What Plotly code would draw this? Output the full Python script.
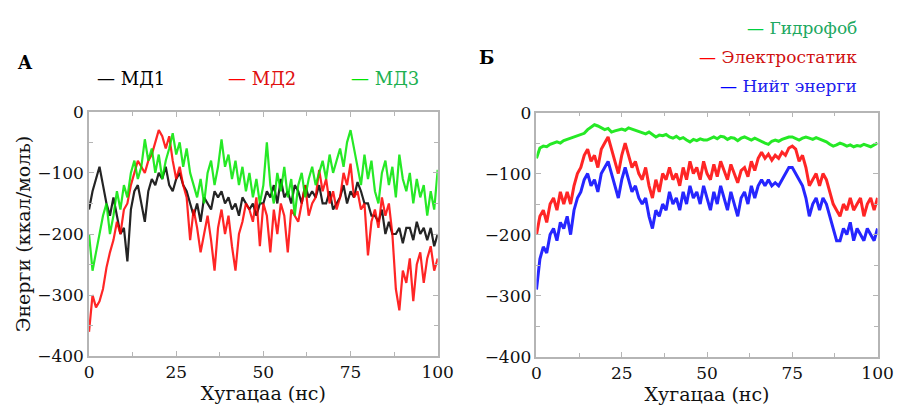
import plotly.graph_objects as go

t = list(range(0, 101))

md1 = [-160, -130, -110, -90, -120, -150, -170, -140, -170, -200,
       -190, -245, -160, -130, -120, -150, -180, -130, -110, -120,
       -100, -110, -90, -120, -130, -110, -100, -120, -130, -150,
       -170, -150, -180, -140, -150, -160, -130, -140, -130, -150,
       -140, -160, -150, -170, -140, -150, -160, -150, -170, -150,
       -150, -130, -140, -120, -150, -110, -140, -130, -150, -120,
       -130, -150, -120, -140, -130, -140, -120, -150, -150, -130,
       -160, -150, -140, -120, -150, -130, -140, -115, -130, -150,
       -150, -170, -170, -180, -160, -200, -180, -200, -200, -190,
       -215, -190, -190, -210, -180, -200, -190, -210, -190, -220,
       -200]

md2 = [-360, -300, -320, -310, -290, -255, -230, -210, -180, -200,
       -160, -150, -120, -100, -80, -90, -100, -80, -70, -50,
       -30, -40, -60, -40, -80, -110, -90, -120, -140, -210,
       -160, -190, -230, -200, -170, -210, -260, -190, -160, -200,
       -170, -220, -260, -200, -180, -150, -160, -180, -140, -220,
       -150, -170, -230, -160, -200, -150, -170, -230, -160, -170,
       -180, -150, -120, -170, -150, -140, -95, -130, -110, -150,
       -130, -160, -140, -100, -120, -85, -140, -130, -160, -150,
       -235, -180, -160, -190, -140, -170, -150, -200, -290, -325,
       -260, -280, -240, -310, -250, -230, -280, -240, -220, -260,
       -240]

md3 = [-200, -260, -230, -200, -170, -150, -200, -170, -130, -160,
       -120, -140, -100, -80, -110, -90, -45, -80, -60, -100,
       -70, -110, -80, -60, -35, -70, -50, -90, -60, -100,
       -120, -140, -110, -150, -100, -80, -120, -90, -45, -90,
       -70, -110, -80, -120, -90, -130, -100, -140, -110, -150,
       -120, -50, -120, -150, -100, -130, -90, -140, -110, -170,
       -120, -100, -140, -110, -90, -120, -100, -80, -110, -70,
       -100, -80, -60, -90, -50, -30, -60, -90, -120, -70,
       -110, -80, -130, -150, -100, -80, -120, -90, -140, -70,
       -110, -130, -100, -150, -110, -140, -120, -170, -130, -160,
       -95]

hyd = [-75, -58, -55, -56, -52, -50, -48, -50, -46, -44,
       -42, -40, -38, -36, -34, -28, -24, -20, -22, -25,
       -28, -26, -32, -30, -28, -27, -29, -25, -27, -29,
       -30, -33, -35, -32, -36, -40, -37, -38, -36, -40,
       -42, -39, -43, -41, -45, -48, -44, -46, -43, -45,
       -45, -42, -40, -43, -39, -40, -44, -41, -42, -46,
       -42, -40, -43, -45, -42, -45, -48, -50, -52, -47,
       -45, -47, -44, -42, -40, -40, -43, -45, -42, -40,
       -42, -44, -41, -43, -46, -48, -52, -55, -53, -50,
       -52, -55, -53, -56, -54, -55, -52, -54, -56, -53,
       -50]

ele = [-200, -170, -160, -180, -150, -140, -160, -130, -150, -130,
       -150, -120, -100, -90, -70, -60, -80, -70, -90, -60,
       -50, -40, -60, -80, -100, -70, -50, -70, -90, -80,
       -100, -110, -90, -120, -140, -110, -130, -100, -110, -90,
       -110, -100, -120, -90, -110, -80, -100, -90, -110, -80,
       -100, -110, -85, -105, -80, -95, -110, -85, -100, -115,
       -95, -90, -105, -80, -95, -75, -65, -75, -68, -78,
       -70, -75, -65, -70, -58, -55, -60, -80, -70, -90,
       -120, -110, -100, -120, -100, -110, -130, -150, -160, -170,
       -150, -160, -140, -160, -150, -140, -170, -150, -140, -160,
       -140]

tot = [-290, -240, -220, -230, -200, -190, -210, -180, -190, -170,
       -200, -160, -140, -130, -110, -100, -120, -110, -130, -100,
       -90, -80, -100, -120, -140, -110, -90, -110, -130, -120,
       -140, -150, -140, -170, -190, -160, -170, -150, -160, -130,
       -150, -140, -160, -130, -150, -120, -140, -130, -150, -120,
       -140, -160, -130, -150, -120, -140, -160, -130, -150, -170,
       -140, -130, -150, -120, -140, -120, -110, -120, -110, -120,
       -115, -120, -110, -100, -90, -90, -100, -110, -120, -140,
       -170, -150, -140, -160, -140, -150, -170, -190, -210, -210,
       -190, -200, -180, -210, -190, -200, -210, -190, -200, -210,
       -190]

xticks = [0, 25, 50, 75, 100]
yticks = [-400, -300, -200, -100, 0]

GREEN = "#00e600"
RED = "#ff0000"
BLUE = "#0000ff"
BLACK = "#000000"
FONT = "DejaVu Serif"

fig = go.Figure()

for y, c in [(md1, BLACK), (md2, RED), (md3, GREEN)]:
    fig.add_trace(go.Scatter(x=t, y=y, mode="lines", line=dict(color=c, width=2.2),
                             xaxis="x", yaxis="y", showlegend=False, opacity=0.85))
for y, c in [(hyd, GREEN), (ele, RED), (tot, BLUE)]:
    fig.add_trace(go.Scatter(x=t, y=y, mode="lines", line=dict(color=c, width=3),
                             xaxis="x2", yaxis="y2", showlegend=False, opacity=0.85))

common = dict(
    showline=True, mirror="allticks", linecolor="#b5b5b5", linewidth=1.5,
    ticks="inside", ticklen=5, tickcolor="#b5b5b5", showgrid=False, zeroline=False,
    tickfont=dict(family=FONT, size=17, color="#111111"),
)
TFONT = dict(family=FONT, size=19, color="#111111")
xminor = dict(ticks="inside", ticklen=4, tickcolor="#b5b5b5", dtick=12.5)
yminor = dict(ticks="inside", ticklen=4, tickcolor="#b5b5b5", dtick=50)

fig.update_layout(
    width=915, height=413, margin=dict(l=0, r=0, t=0, b=0),
    paper_bgcolor="white", plot_bgcolor="white",
    font=dict(family=FONT),
    xaxis=dict(domain=[0.094, 0.484], anchor="y", range=[0, 100], tickvals=xticks, minor=xminor,
               title=dict(text="Хугацаа (нс)", font=TFONT, standoff=0), **common),
    yaxis=dict(domain=[0.119, 0.741], anchor="x", range=[-400, 0], tickvals=yticks, minor=yminor,
               title=dict(text="Энерги (ккал/моль)", font=TFONT, standoff=2), **common),
    xaxis2=dict(domain=[0.5945, 0.976], anchor="y2", range=[0, 100], tickvals=xticks, minor=xminor,
                title=dict(text="Хугацаа (нс)", font=TFONT, standoff=0), **common),
    yaxis2=dict(domain=[0.118, 0.739], anchor="x2", range=[-400, 0], tickvals=yticks, minor=yminor,
                **common),
)

def ann(text, x, y, color, size=18, xanchor="left", bold=False):
    fig.add_annotation(text=("<b>%s</b>" % text) if bold else text, x=x, y=y,
                       xref="paper", yref="paper", xanchor=xanchor, yanchor="middle",
                       showarrow=False, font=dict(family=FONT, size=size, color=color))

ann("A", 10 / 915, 1 - 55 / 413, BLACK, size=18, bold=True)
ann("Б", 483 / 915, 1 - 50 / 413, BLACK, size=18, bold=True)

ann("— МД1", 92 / 915, 1 - 72 / 413, BLACK)
ann('<span style="color:#ff0000">—</span> МД2', 226 / 915, 1 - 72 / 413, "#e01010")
ann('<span style="color:#00e600">—</span> МД3', 352 / 915, 1 - 72 / 413, "#20b050")

ann('<span style="color:#00d040">—</span> Гидрофоб', 874 / 915, 1 - 19 / 413, "#20a860", size=17, xanchor="right")
ann('<span style="color:#ff0000">—</span> Электростатик', 874 / 915, 1 - 49 / 413, "#d01010", size=17, xanchor="right")
ann('<span style="color:#0000ff">—</span> Нийт энерги', 874 / 915, 1 - 80 / 413, "#2020ee", size=17, xanchor="right")

fig.write_html("out.html")
